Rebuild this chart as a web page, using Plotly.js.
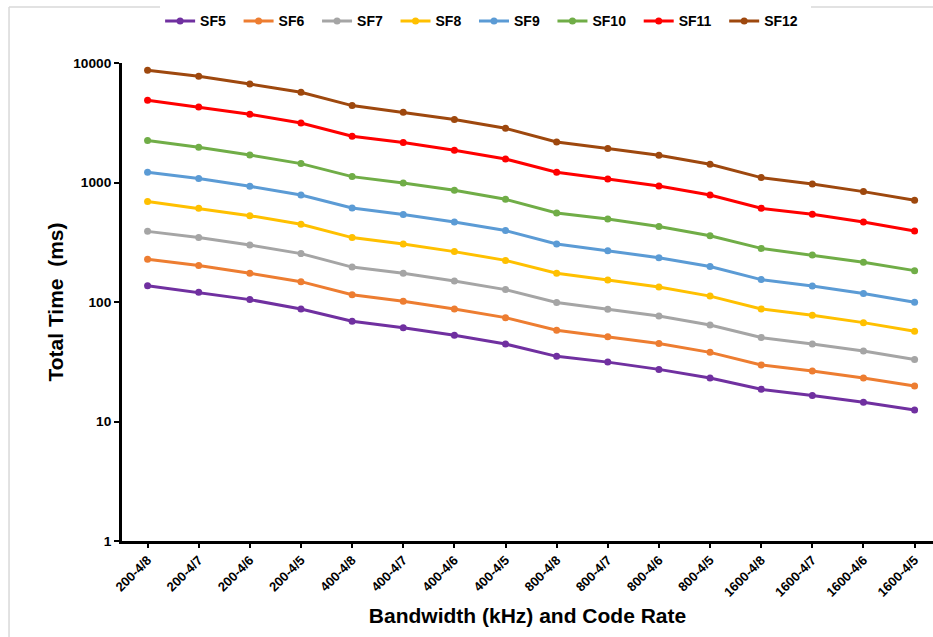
<!DOCTYPE html>
<html>
<head>
<meta charset="utf-8">
<script src="https://cdn.plot.ly/plotly-3.0.1.min.js"></script>
<style>html,body{margin:0;padding:0;background:#fff;}#chart{width:933px;height:637px;}</style>
</head>
<body>
<div id="chart"></div>
<script>
var categories = ["200-4/8","200-4/7","200-4/6","200-4/5","400-4/8","400-4/7","400-4/6","400-4/5","800-4/8","800-4/7","800-4/6","800-4/5","1600-4/8","1600-4/7","1600-4/6","1600-4/5"];
var seriesNames = ["SF5","SF6","SF7","SF8","SF9","SF10","SF11","SF12"];
var sf5  = [137, 120.5, 104.7, 87.4, 69, 61, 52.6, 44.5, 35.1, 31.4, 27.3, 23.1, 18.6, 16.5, 14.5, 12.5];
var sf6  = [228, 202, 174, 148, 115, 101.4, 87.4, 74, 58, 51.3, 44.9, 37.9, 29.7, 26.5, 23.1, 19.8];
var sf7  = [390, 346, 300, 254, 196, 174, 150, 127, 98.9, 86.9, 76.3, 64.2, 50.4, 44.5, 38.9, 33];
var sf8  = [692, 608, 528, 447, 346, 306, 264, 223, 174, 153, 133.5, 112, 87.4, 77.4, 67.2, 56.9];
var sf9  = [1217, 1078, 929, 786, 612, 539, 467, 396, 306, 269, 235, 198, 154, 136, 118, 99.4];
var sf10 = [2242, 1970, 1699, 1439, 1120, 990, 860, 723, 556, 495, 428, 359, 281, 247, 215, 183];
var sf11 = [4875, 4285, 3720, 3148, 2437, 2158, 1860, 1573, 1217, 1070, 935, 786, 608, 542, 467, 393];
var sf12 = [8690, 7740, 6670, 5685, 4400, 3867, 3360, 2842, 2182, 1922, 1690, 1420, 1099, 971, 839, 710];
var yTickVals = [1, 10, 100, 1000, 10000];
var yTickText = ["1", "10", "100", "1000", "10000"];

var allSeries = [sf5, sf6, sf7, sf8, sf9, sf10, sf11, sf12];
var colors = ["#7030A0","#ED7D31","#A5A5A5","#FFC000","#5B9BD5","#70AD47","#FF0000","#9E480E"];
var FONT = "Liberation Sans, Arial, sans-serif";
var PAD = "\u00a0\u00a0";

var traces = allSeries.map(function(vals, i){
  return {
    type: "scatter", mode: "lines+markers",
    x: categories, y: vals, name: seriesNames[i] + PAD,
    line: {color: colors[i], width: 3},
    marker: {color: colors[i], size: 7}
  };
});

var layout = {
  width: 933, height: 637,
  margin: {l: 122, r: 0, t: 63, b: 96},
  paper_bgcolor: "#fff", plot_bgcolor: "#fff",
  font: {family: FONT, color: "#000"},
  showlegend: true,
  legend: {
    orientation: "h", x: 0.047, y: 1.087, xanchor: "left", yanchor: "middle",
    font: {family: FONT, size: 14, color: "#000", weight: "bold"},
    tracegroupgap: 0
  },
  xaxis: {
    type: "category", range: [-0.5, 15.36],
    showline: true, linecolor: "#000", linewidth: 2.5,
    ticks: "outside", ticklen: 4, tickwidth: 2, tickcolor: "#000",
    tickangle: -45, showgrid: false, zeroline: false,
    tickfont: {family: FONT, size: 13, color: "#000", weight: "bold"},
    title: {text: "Bandwidth (kHz) and Code Rate", font: {family: FONT, size: 21, color: "#000", weight: "bold"}, standoff: 10}
  },
  yaxis: {
    type: "log", range: [0, 4],
    tickvals: yTickVals, ticktext: yTickText,
    showline: true, linecolor: "#000", linewidth: 3,
    ticks: "outside", ticklen: 5, tickwidth: 2, tickcolor: "#000",
    showgrid: false, zeroline: false,
    tickfont: {family: FONT, size: 13.7, color: "#000", weight: "bold"},
    title: {text: "Total Time\u00a0\u00a0(ms)", font: {family: FONT, size: 21, color: "#000", weight: "bold"}, standoff: 4}
  },
  shapes: [
    {type: "line", xref: "paper", yref: "paper", x0: -0.1393, x1: 1.01, y0: 1.117, y1: 1.117, line: {color: "#d9d9d9", width: 1.5}},
    {type: "line", xref: "paper", yref: "paper", x0: -0.1393, x1: -0.1393, y0: 1.117, y1: -0.25, line: {color: "#d9d9d9", width: 1.5}}
  ]
};

Plotly.newPlot("chart", traces, layout, {displayModeBar: false, staticPlot: true});
</script>
</body>
</html>
